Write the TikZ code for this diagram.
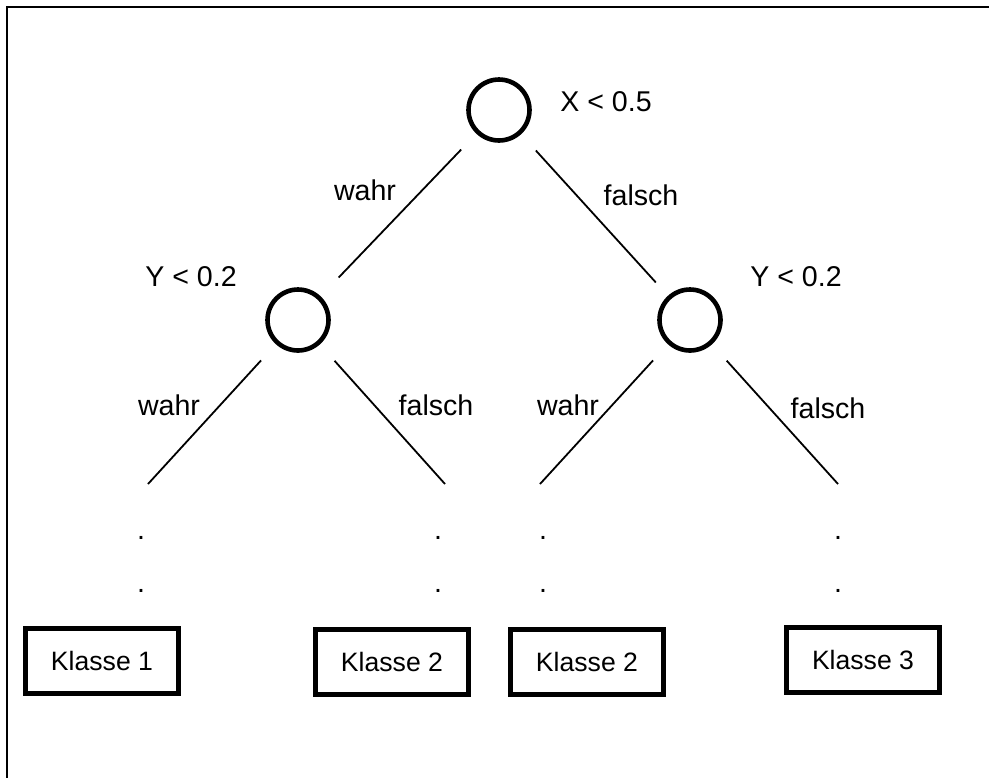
\documentclass[tikz,border=0pt]{standalone}
\usepackage{fontspec}
\setmainfont{Liberation Sans}
\usepackage{tikz}

\tikzset{
  test/.style={circle, draw, line width=2.3pt, minimum size=30.5pt, inner sep=0pt},
  leaf/.style={rectangle, draw, line width=2.4pt, minimum width=76.5pt, minimum height=32.5pt, inner sep=0pt,
    font=\fontsize{13.3}{16}\selectfont},
  branch/.style={line width=0.9pt, shorten <=11pt},
}

\begin{document}
\begin{tikzpicture}[x=0.5pt, y=-0.5pt, font=\fontsize{14.3}{17}\selectfont]
\useasboundingbox (0,0) rectangle (989,778);
\draw [line width=1pt] (989,7) -- (7,7) -- (7,778);

\node [test] (x) at (499,110) {};
\node [test] (yl) at (298,320) {};
\node [test] (yr) at (690,320) {};

\node (xlbl) at (606,102) {X < 0.5};
\node (yllbl) at (191,277) {Y < 0.2};
\node (yrlbl) at (796,277) {Y < 0.2};

\draw [branch, shorten >=13pt] (x) -- (yl);
\draw [branch, shorten >=9pt] (x) -- (yr);
\node (w1) at (365,190) {wahr};
\node (f1) at (641,195) {falsch};

\coordinate (e1) at (148,484);
\coordinate (e2) at (445,484);
\coordinate (e3) at (540,484);
\coordinate (e4) at (838,484);
\draw [branch] (yl) -- (e1);
\draw [branch] (yl) -- (e2);
\draw [branch] (yr) -- (e3);
\draw [branch] (yr) -- (e4);
\node (w2) at (169,405) {wahr};
\node (f2) at (436,405) {falsch};
\node (w3) at (568,405) {wahr};
\node (f3) at (828,408) {falsch};

\foreach \x/\n in {141/a, 438/b, 543/c, 838/d} {
  \node [inner sep=0pt] (dot\n1) at (\x,538) {.};
  \node [inner sep=0pt] (dot\n2) at (\x,591) {.};
}

\node [leaf] (k1) at (102,661) {Klasse 1};
\node [leaf] (k2) at (392,662) {Klasse 2};
\node [leaf] (k3) at (587,662) {Klasse 2};
\node [leaf] (k4) at (863,660) {Klasse 3};
\end{tikzpicture}
\end{document}
